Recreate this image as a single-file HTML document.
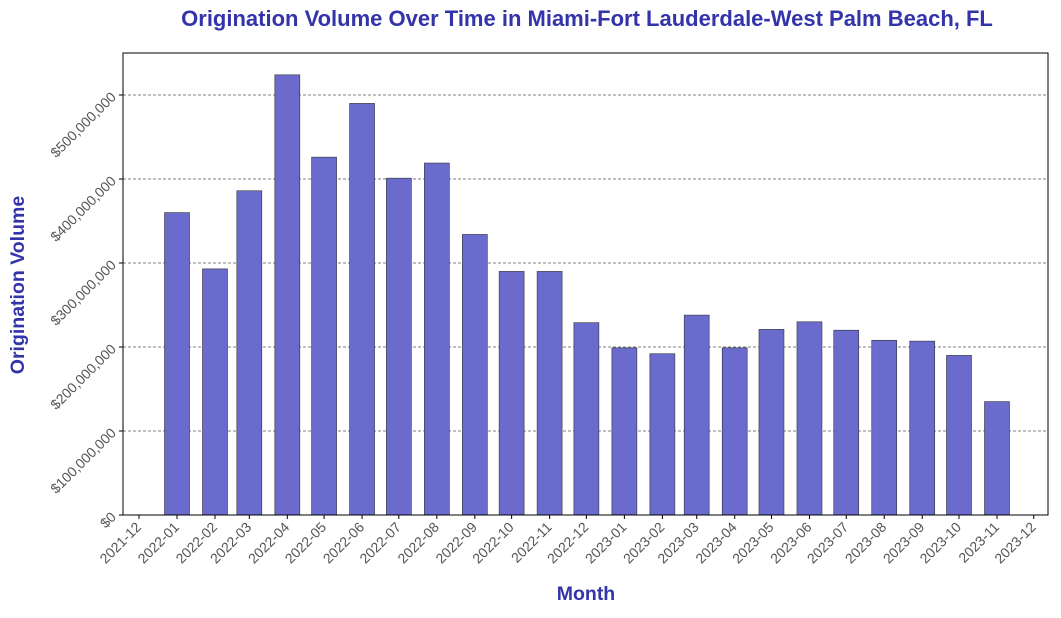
<!DOCTYPE html>
<html><head><meta charset="utf-8"><style>
body{margin:0;background:#fff;width:1061px;height:613px;overflow:hidden;font-family:"Liberation Sans",sans-serif}
</style></head><body>
<svg id="chart" width="1061" height="613" xmlns="http://www.w3.org/2000/svg">
<text x="587" y="26" text-anchor="middle" font-size="22" font-weight="bold" fill="#3333aa">Origination Volume Over Time in Miami-Fort Lauderdale-West Palm Beach, FL</text>
<text x="586" y="600" text-anchor="middle" font-size="19.5" font-weight="bold" fill="#3333aa">Month</text>
<text transform="translate(24,285) rotate(-90)" text-anchor="middle" font-size="19.5" font-weight="bold" fill="#3333aa">Origination Volume</text>
<g id="grid"></g><g id="bars"></g><g id="ticks"></g>
<rect x="123" y="53" width="925" height="462" fill="none" stroke="#000" stroke-width="1"/>
</svg>
<script>
const months = ["2022-01","2022-02","2022-03","2022-04","2022-05","2022-06","2022-07","2022-08","2022-09","2022-10","2022-11","2022-12","2023-01","2023-02","2023-03","2023-04","2023-05","2023-06","2023-07","2023-08","2023-09","2023-10","2023-11"];
const volumes = [360e6,293e6,386e6,524e6,426e6,490e6,401e6,419e6,334e6,290e6,290e6,229e6,199e6,192e6,238e6,199e6,221e6,230e6,220e6,208e6,207e6,190e6,135e6];
const xTicks = ["2021-12","2022-01","2022-02","2022-03","2022-04","2022-05","2022-06","2022-07","2022-08","2022-09","2022-10","2022-11","2022-12","2023-01","2023-02","2023-03","2023-04","2023-05","2023-06","2023-07","2023-08","2023-09","2023-10","2023-11","2023-12"];
const yTicks = [0,100e6,200e6,300e6,400e6,500e6];
const NS="http://www.w3.org/2000/svg";
const day=s=>Date.UTC(+s.slice(0,4),+s.slice(5,7)-1,1)/864e5;
const d0=day("2022-01"),pxPerDay=820/669;
const X=s=>177+(day(s)-d0)*pxPerDay;
const Y=v=>515-v/1e8*84;
function el(t,a,p){const e=document.createElementNS(NS,t);for(const k in a)e.setAttribute(k,a[k]);p.appendChild(e);return e;}
const grid=document.getElementById('grid'),bars=document.getElementById('bars'),ticks=document.getElementById('ticks');
yTicks.forEach(v=>{
 const y=Y(v);
 if(v>0){const g=el('line',{x1:123,x2:1048,y1:y,y2:y,stroke:'#555','stroke-dasharray':'3,2','stroke-width':0.8},grid);
 
 }
 el('line',{x1:119,x2:123,y1:y,y2:y,stroke:'#000'},ticks);
 const t=el('text',{x:114,y:y+4,'text-anchor':'end','font-size':14,fill:'#555',transform:`rotate(-45 114 ${y})`},ticks);
 t.textContent='$'+v.toLocaleString('en-US');
 
 
});
months.forEach((m,i)=>{
 const x=X(m),y=Y(volumes[i]);
 const r=el('rect',{x:x-12.5,y:y,width:25,height:515-y,fill:'#6a6bcc',stroke:'#333','stroke-width':0.6},bars);
 
 
});
xTicks.forEach(m=>{
 const x=X(m);
 el('line',{x1:x,x2:x,y1:515,y2:519,stroke:'#000'},ticks);
 const t=el('text',{x:x+3,y:528,'text-anchor':'end','font-size':14,fill:'#555',transform:`rotate(-45 ${x+3} 528)`},ticks);
 t.textContent=m;
 
 
});
</script>
</body></html>
